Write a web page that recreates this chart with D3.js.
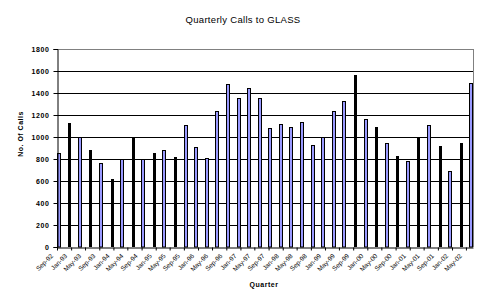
<!DOCTYPE html>
<html><head><meta charset="utf-8">
<script src="https://cdn.jsdelivr.net/npm/d3@7"></script>
<style>
body{margin:0;background:#fff;}
text{font-family:"Liberation Sans",Arial,sans-serif;fill:#000;}
</style></head><body>
<svg id="c" width="485" height="306"></svg>
<script>
// Quarterly dates (first month of each quarter point), Sep-92 .. Jun-02
const startDate = new Date(1992, 8, 1);
const quarterCount = 40;
// Blue series (null where the quarter is drawn in black)
const callsBlue = [852,null,1003,null,761,null,797,null,797,null,882,null,1106,906,806,1236,1482,1352,1442,1352,1079,1115,1088,1133,924,1003,1236,1324,null,1161,null,942,null,779,null,1106,null,688,null,1488];
// Black series
const callsBlack = [null,1130,null,882,null,618,null,1003,null,852,null,815,null,null,null,null,null,null,null,null,null,null,null,null,null,null,null,null,1564,null,1088,null,827,null,991,null,918,null,942,null];
const yTicks = [0,200,400,600,800,1000,1200,1400,1600,1800];

const quarters = d3.range(quarterCount).map(i => d3.timeMonth.offset(startDate, 3*i));
const endDate = d3.timeMonth.offset(quarters[quarters.length-1], 1);

const svg = d3.select("#c");
const L = 57, R = 473, T = 49, B = 247;
const x = d3.scaleTime().domain([startDate, endDate]).range([L, R]);
const y = d3.scaleLinear().domain([0, 1800]).range([B, T]);

// gridlines
svg.append("g").selectAll("line").data(yTicks.filter(v => v > 0)).join("line")
  .attr("x1", L).attr("x2", R).attr("y1", d => Math.round(y(d)) + 0.5).attr("y2", d => Math.round(y(d)) + 0.5)
  .attr("stroke", d => d === 1800 ? "#808080" : "#000").attr("stroke-width", 1);
// right border
svg.append("line").attr("x1", R + 0.5).attr("x2", R + 0.5).attr("y1", Math.round(y(1800))).attr("y2", B)
  .attr("stroke", "#808080");

const center = d => (x(d) + x(d3.timeMonth.offset(d, 1))) / 2;

// black bars
svg.append("g").selectAll("rect").data(quarters.map((d, i) => ({d, v: callsBlack[i]})).filter(o => o.v != null)).join("rect")
  .attr("x", o => Math.round(center(o.d)) - 1).attr("width", 3)
  .attr("y", o => Math.round(y(o.v))).attr("height", o => B - Math.round(y(o.v)))
  .attr("fill", "#000");
// blue bars
svg.append("g").selectAll("rect").data(quarters.map((d, i) => ({d, v: callsBlue[i]})).filter(o => o.v != null)).join("rect")
  .attr("x", o => Math.round(center(o.d)) - 1.5).attr("width", 3)
  .attr("y", o => Math.round(y(o.v)) + 0.5).attr("height", o => B - Math.round(y(o.v)) - 0.5)
  .attr("fill", "#9999ff").attr("stroke", "#000").attr("stroke-width", 1);

// y axis
const yAxis = svg.append("g").attr("transform", `translate(${L + 0.5},0)`)
  .call(d3.axisLeft(y).tickValues(yTicks).tickSize(4).tickPadding(4).tickFormat(d3.format("d")));
yAxis.select(".domain").attr("stroke", "#000");
yAxis.selectAll(".tick line").attr("stroke", "#000");
yAxis.selectAll("text").attr("font-size", 7).attr("font-weight", "bold").style("letter-spacing", "0.6px");

// x axis
const xTicks = d3.timeMonth.every(4).range(startDate, endDate);
const xAxis = svg.append("g").attr("transform", `translate(0,${B + 0.5})`)
  .call(d3.axisBottom(x).tickValues(xTicks).tickSize(3).tickSizeOuter(0).tickFormat(d3.timeFormat("%b-%y")));
xAxis.select(".domain").attr("stroke", "#000");
xAxis.selectAll(".tick line").attr("stroke", "#000");
xAxis.selectAll("text").attr("font-size", 6.5).attr("text-anchor", "end")
  .attr("dy", 0).attr("y", 0)
  .attr("transform", "translate(-4,9) rotate(-45)");

// titles
svg.append("text").attr("x", 243).attr("y", 23).attr("text-anchor", "middle")
  .attr("font-size", 9.5).style("letter-spacing", "0.3px").text("Quarterly Calls to GLASS");
svg.append("text").attr("x", 264).attr("y", 287).attr("text-anchor", "middle")
  .attr("font-size", 7).attr("font-weight", "bold").style("letter-spacing", "0.5px").text("Quarter");
svg.append("text").attr("transform", "translate(23,134) rotate(-90)").attr("text-anchor", "middle")
  .attr("font-size", 7).attr("font-weight", "bold").style("letter-spacing", "0.5px").text("No. Of Calls");
</script></body></html>
